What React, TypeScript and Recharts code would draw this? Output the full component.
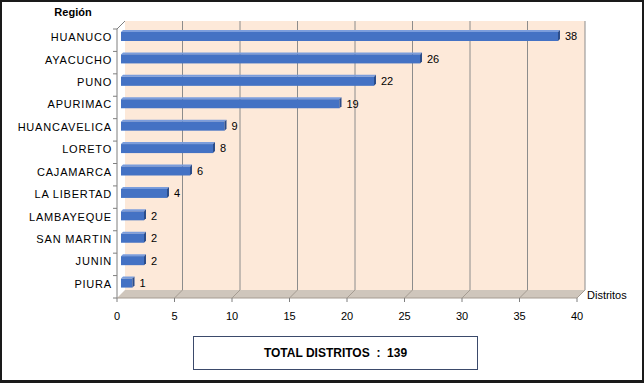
import { Bar, BarChart, LabelList, ReferenceArea, XAxis, YAxis } from "recharts";

const regions = [
    "HUANUCO",
    "AYACUCHO",
    "PUNO",
    "APURIMAC",
    "HUANCAVELICA",
    "LORETO",
    "CAJAMARCA",
    "LA LIBERTAD",
    "LAMBAYEQUE",
    "SAN MARTIN",
    "JUNIN",
    "PIURA",
];
const distritos = [38, 26, 22, 19, 9, 8, 6, 4, 2, 2, 2, 1];
const xTicks = [0, 5, 10, 15, 20, 25, 30, 35, 40];

const data = regions.map((region, i) => ({ region, distritos: distritos[i] }));
const total = distritos.reduce((a, b) => a + b, 0);

const DEPTH = 4;
const FONT = "'Liberation Sans', Arial, sans-serif";

// back wall, floor, grid and axis lines drawn around the plot area
const Wall = (props: any) => {
    const { x, y, width, height } = props;
    const d = DEPTH;
    const n = regions.length;
    const step = height / n;
    return (
        <g>
            <rect x={x + d} y={y - d} width={width} height={height} fill="#fde9d9" />
            <polygon
                points={`${x - d},${y + height + d} ${x + width - d},${y + height + d} ${x + width + d},${y + height - d} ${x + d},${y + height - d}`}
                fill="#cfc6bc"
            />
            {xTicks.slice(1).map((t) => {
                const gx = x + (width * t) / 40;
                return (
                    <g key={t}>
                        <line x1={gx + d} x2={gx + d} y1={y - d} y2={y + height - d} stroke="#8c8c8c" />
                        <line x1={gx - d} x2={gx + d} y1={y + height + d} y2={y + height - d} stroke="#a59c92" />
                    </g>
                );
            })}
            <line x1={x - d} x2={x + d} y1={y + d} y2={y - d} stroke="#7f7f7f" />
            <line x1={x - d} x2={x - d} y1={y + d} y2={y + height + d} stroke="#7f7f7f" />
            <line x1={x - d} x2={x + width - d} y1={y + height + d} y2={y + height + d} stroke="#a59c92" />
            {Array.from({ length: n + 1 }).map((_, i) => (
                <line
                    key={i}
                    x1={x - d - 4}
                    x2={x - d}
                    y1={y + d + i * step}
                    y2={y + d + i * step}
                    stroke="#7f7f7f"
                />
            ))}
            {xTicks.map((t) => {
                const gx = x + (width * t) / 40 - d;
                return (
                    <line key={t} x1={gx} x2={gx} y1={y + height + d} y2={y + height + d + 4} stroke="#7f7f7f" />
                );
            })}
        </g>
    );
};

const Bar3D = (props: any) => {
    const { x, y, width, height } = props;
    if (!width || width <= 0) return null;
    const s = 2;
    return (
        <g>
            <polygon
                points={`${x},${y} ${x + s},${y - s} ${x + width + s},${y - s} ${x + width},${y}`}
                fill="#7b9ddc"
            />
            <rect x={x} y={y} width={width} height={height} fill="#4472c4" />
            <polygon
                points={`${x + width},${y} ${x + width + s},${y - s} ${x + width + s},${y + height - s} ${x + width},${y + height}`}
                fill="#2c4d8a"
            />
        </g>
    );
};

const RegionTick = (props: any) => {
    const { x, y, payload } = props;
    return (
        <text
            x={x - 9}
            y={y + 1}
            textAnchor="end"
            dominantBaseline="central"
            fontSize={11}
            letterSpacing={0.8}
            fill="#000"
        >
            {payload.value}
        </text>
    );
};

const ValueTick = (props: any) => {
    const { x, y, payload } = props;
    return (
        <text x={x - DEPTH} y={y + 22} textAnchor="middle" dominantBaseline="central" fontSize={11} fill="#000">
            {payload.value}
        </text>
    );
};

const App = () => {
    return (
        <div
            style={{
                position: "absolute",
                left: 0,
                top: 0,
                width: 644,
                height: 383,
                background: "#fff",
                fontFamily: FONT,
            }}
        >
            <BarChart
                width={644}
                height={383}
                data={data}
                layout="vertical"
                margin={{ top: 25, right: 63, bottom: 49, left: 0 }}
                barSize={9}
            >
                <ReferenceArea x1={0} x2={40} shape={<Wall />} ifOverflow="visible" />
                <XAxis
                    type="number"
                    domain={[0, 40]}
                    ticks={xTicks}
                    height={40}
                    axisLine={false}
                    tickLine={false}
                    tickSize={0}
                    tickMargin={0}
                    tick={<ValueTick />}
                />
                <YAxis
                    type="category"
                    dataKey="region"
                    width={121}
                    axisLine={false}
                    tickLine={false}
                    tickSize={0}
                    tickMargin={0}
                    interval={0}
                    tick={<RegionTick />}
                />
                <Bar dataKey="distritos" shape={<Bar3D />} isAnimationActive={false}>
                    <LabelList dataKey="distritos" position="right" offset={7} fill="#000" fontSize={11} />
                </Bar>
            </BarChart>
            <div
                style={{
                    position: "absolute",
                    left: 46,
                    top: 6,
                    width: 54,
                    textAlign: "center",
                    fontSize: 11,
                    fontWeight: "bold",
                }}
            >
                Región
            </div>
            <div style={{ position: "absolute", left: 587, top: 289, fontSize: 11 }}>Distritos</div>
            <div
                style={{
                    position: "absolute",
                    left: 193,
                    top: 336,
                    width: 285,
                    height: 34,
                    boxSizing: "border-box",
                    border: "1px solid #3b4a6b",
                    display: "flex",
                    alignItems: "center",
                    justifyContent: "center",
                    fontSize: 12,
                    fontWeight: "bold",
                }}
            >
                TOTAL DISTRITOS&nbsp; :&nbsp; {total}
            </div>
            <div
                style={{
                    position: "absolute",
                    left: 0,
                    top: 0,
                    width: 644,
                    height: 383,
                    boxSizing: "border-box",
                    border: "2px solid #1a1a1a",
                    borderBottomWidth: 3,
                    pointerEvents: "none",
                }}
            />
        </div>
    );
};

export default App;
